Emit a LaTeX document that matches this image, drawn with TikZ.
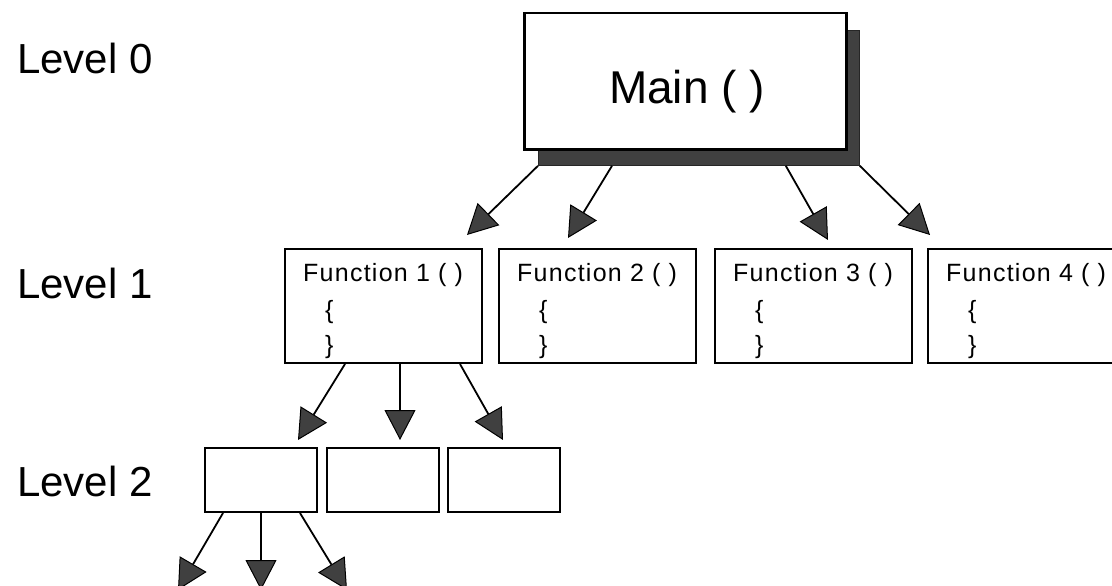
\documentclass[tikz,border=0pt]{standalone}
\usepackage{fontspec}
\setmainfont{Liberation Sans}
\newfontfamily\funcfont[LetterSpace=5]{Liberation Sans}
\usetikzlibrary{arrows.meta,calc}

\tikzset{
  boxline/.style={draw=black, line width=2pt, fill=white, inner sep=0pt},
  funcbox/.style={boxline, anchor=north west, minimum width=197pt, minimum height=114pt},
  subbox/.style={boxline, anchor=north west, minimum width=112pt, minimum height=64pt},
  shadowbox/.style={fill=black!75, draw=black!85, line width=0.8pt, anchor=north west, inner sep=0pt},
  leveltext/.style={anchor=base west, inner sep=0pt, font=\fontsize{42}{46}\selectfont},
  functext/.style={anchor=base west, inner sep=0pt, font=\funcfont\fontsize{25}{28}\selectfont},
  calls/.style={draw=black, line width=1.8pt,
    -{Triangle[length=30pt, width=31pt, fill=black!75, line width=1pt]}}
}

\begin{document}
\begin{tikzpicture}[x=1pt, y=-1pt]
  \useasboundingbox (0,0) rectangle (1112,586);
  \clip (0,0) rectangle (1112,586);
  \fill[white] (0,0) rectangle (1112,586);

  % level captions
  \node[leveltext] (lv0) at (17,74)  {Level 0};
  \node[leveltext] (lv1) at (17,298) {Level 1};
  \node[leveltext] (lv2) at (17,496) {Level 2};

  % main program with its drop shadow
  \node[shadowbox, minimum width=321pt, minimum height=135pt] (shadow) at (538,30) {};
  \node[boxline, line width=2.5pt, anchor=north west, minimum width=322pt, minimum height=136pt] (main) at (523,12) {};
  \node[anchor=base, inner sep=0pt, font=\fontsize{46}{50}\selectfont] (maintext) at (687,103) {Main ( )};

  % level 1 functions
  \foreach \i/\x in {1/284, 2/498, 3/714, 4/927} {
    \node[funcbox] (f\i) at (\x,248) {};
    \node[functext] (f\i name) at (\x+19,281) {Function \i{} ( )};
    \node[functext] (f\i open) at (\x+41,318) {\{};
    \node[functext] (f\i close) at (\x+41,353) {\}};
  }

  % level 2 sub-functions
  \node[subbox] (s1) at (204,447) {};
  \node[subbox] (s2) at (326,447) {};
  \node[subbox] (s3) at (447,447) {};

  % arrow ends
  \coordinate (m1) at (467,235);
  \coordinate (m2) at (568,238);
  \coordinate (m3) at (828,240);
  \coordinate (m4) at (930,235);
  \coordinate (a1) at (298,440);
  \coordinate (a2) at (400,440);
  \coordinate (a3) at (503,440);
  \coordinate (b1) at (178,590);
  \coordinate (b2) at (261,590);
  \coordinate (b3) at (347,590);

  % calls from main
  \draw[calls] (shadow.south west) -- (m1);
  \draw[calls] ([xshift=74pt]shadow.south west) -- (m2);
  \draw[calls] ([xshift=-74pt]shadow.south east) -- (m3);
  \draw[calls] (shadow.south east) -- (m4);

  % calls from function 1
  \draw[calls] ([xshift=61pt]f1.south west) -- (a1);
  \draw[calls] ([xshift=116pt]f1.south west) -- (a2);
  \draw[calls] ([xshift=176pt]f1.south west) -- (a3);

  % calls from the first sub-function
  \draw[calls] ([xshift=19pt]s1.south west) -- (b1);
  \draw[calls] ([xshift=57pt]s1.south west) -- (b2);
  \draw[calls] ([xshift=96pt]s1.south west) -- (b3);
\end{tikzpicture}
\end{document}
